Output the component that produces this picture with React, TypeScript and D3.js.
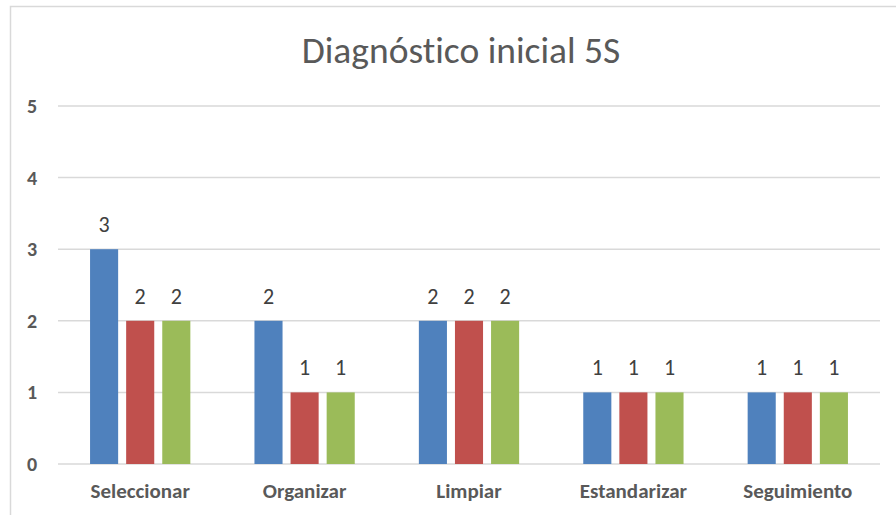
import React from "react";
import * as d3 from "d3";

const categories = ["Seleccionar", "Organizar", "Limpiar", "Estandarizar", "Seguimiento"];
const seriesNames = ["Serie 1", "Serie 2", "Serie 3"];
const serie1 = [3, 2, 2, 1, 1];
const serie2 = [2, 1, 2, 1, 1];
const serie3 = [2, 1, 2, 1, 1];
const yTicks = [0, 1, 2, 3, 4, 5];
const colors = ["#4F81BD", "#C0504D", "#9BBB59"];
const title = "Diagnóstico inicial 5S";

export default function App() {
  const W = 896, H = 515;
  const left = 58, right = 880, top = 106, bottom = 464;
  const series = [serie1, serie2, serie3];
  const y = d3.scaleLinear().domain([0, 5]).range([bottom, top]);
  const x0 = d3.scaleBand<string>().domain(categories).range([left, right]).paddingInner(0.39).paddingOuter(0.195);
  const x1 = d3.scaleBand<string>().domain(seriesNames).range([0, x0.bandwidth()]).paddingInner(0.222).paddingOuter(0);
  const font = "Carlito, Calibri, 'Liberation Sans', Arial, sans-serif";
  return (
    <svg width={W} height={H} style={{ position: "fixed", left: 0, top: 0, background: "#fff", fontVariantLigatures: "none" }} fontFamily={font}>
      <rect x={10.5} y={6.5} width={W + 10} height={H + 10} fill="#fff" stroke="#D9D9D9" strokeWidth={1.5} />
      <text x={461} y={63} textAnchor="middle" fontSize={37.5} fill="#595959" style={{ fontVariantLigatures: "none", fontFeatureSettings: "'liga' 0, 'dlig' 0" }}>{title}</text>
      {yTicks.map(t => (
        <g key={t}>
          <line x1={left} x2={right} y1={y(t)} y2={y(t)} stroke="#D9D9D9" strokeWidth={1.5} />
          <text x={32} y={y(t)} dy="0.35em" textAnchor="middle" fontSize={20} fontWeight="bold" fill="#595959">{t}</text>
        </g>
      ))}
      {categories.map((c, i) => (
        <g key={c} transform={`translate(${x0(c)},0)`}>
          {series.map((s, j) => {
            const bx = x1(seriesNames[j])!;
            const bw = x1.bandwidth();
            return (
              <g key={j}>
                <rect x={bx} y={y(s[i])} width={bw} height={bottom - y(s[i])} fill={colors[j]} />
                <text x={bx + bw / 2} y={y(s[i]) - 17} textAnchor="middle" fontSize={22} fill="#404040">{s[i]}</text>
              </g>
            );
          })}
          <text x={x0.bandwidth() / 2} y={498} textAnchor="middle" fontSize={21} fontWeight="bold" fill="#595959">{c}</text>
        </g>
      ))}
    </svg>
  );
}
